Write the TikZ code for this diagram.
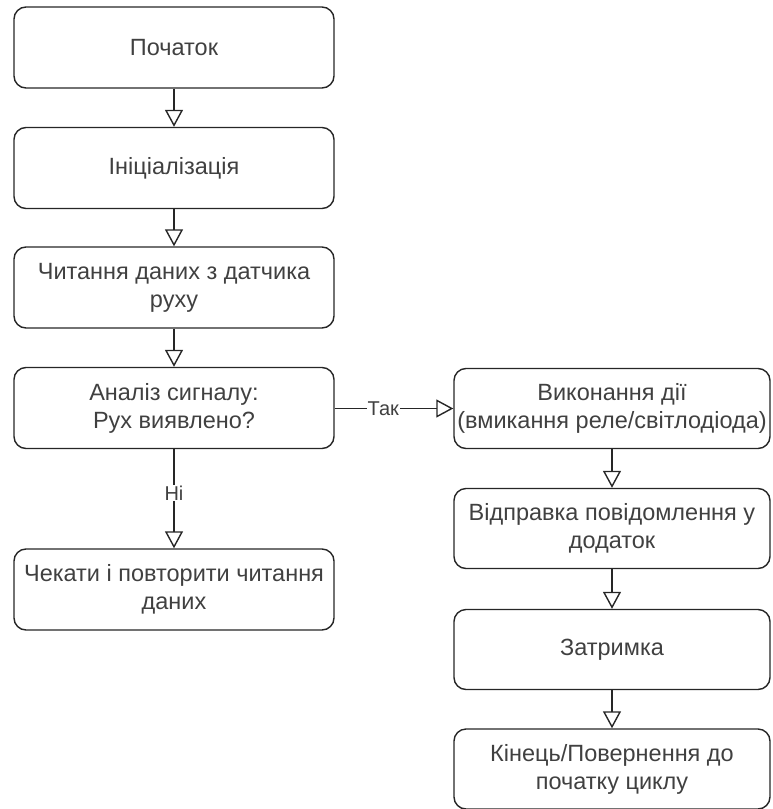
\documentclass[tikz,border=0pt]{standalone}
\usepackage{fontspec}
\setmainfont{Liberation Sans}
\usetikzlibrary{arrows.meta}
\definecolor{txt}{HTML}{404040}
\tikzset{
  box/.style={draw=black!85, line width=1.4pt, rounded corners=12pt, align=center,
    text=txt, font=\fontsize{23.5}{28}\selectfont, inner sep=0pt},
  lbox/.style={box, minimum width=320pt, minimum height=81pt},
  rbox/.style={box, minimum width=316pt, minimum height=80pt},
  flow/.style={draw=black!85, line width=1.4pt, -{Triangle[open, length=17pt, width=18pt, line width=1.4pt]}},
  lab/.style={fill=white, text=txt, font=\fontsize{20}{24}\selectfont, inner sep=1pt}
}
\begin{document}
\begin{tikzpicture}[x=1pt, y=-1pt]
\useasboundingbox (0,0) rectangle (772,809);
\node[lbox] (b1) at (174,47.5) {Початок};
\node[lbox] (b2) at (174,168) {Ініціалізація};
\node[lbox] (b3) at (174,287.5) {Читання даних з датчика\\руху};
\node[lbox] (b4) at (174,408) {Аналіз сигналу:\\Рух виявлено?};
\node[lbox] (b5) at (174,589.5) {Чекати і повторити читання\\даних};
\node[rbox] (r1) at (612,408.5) {Виконання дії\\(вмикання реле/світлодіода)};
\node[rbox] (r2) at (612,528.5) {Відправка повідомлення у\\додаток};
\node[rbox] (r3) at (612,649.5) {Затримка};
\node[rbox] (r4) at (612,769) {Кінець/Повернення до\\початку циклу};
\draw[flow] (b1) -- (b2);
\draw[flow] (b2) -- (b3);
\draw[flow] (b3) -- (b4);
\draw[flow] (b4) -- node[lab, pos=0.44] {Ні} (b5);
\draw[flow] (b4.east |- r1.west) -- node[lab, pos=0.41] {Так} (r1.west);
\draw[flow] (r1) -- (r2);
\draw[flow] (r2) -- (r3);
\draw[flow] (r3) -- (r4);
\end{tikzpicture}
\end{document}
